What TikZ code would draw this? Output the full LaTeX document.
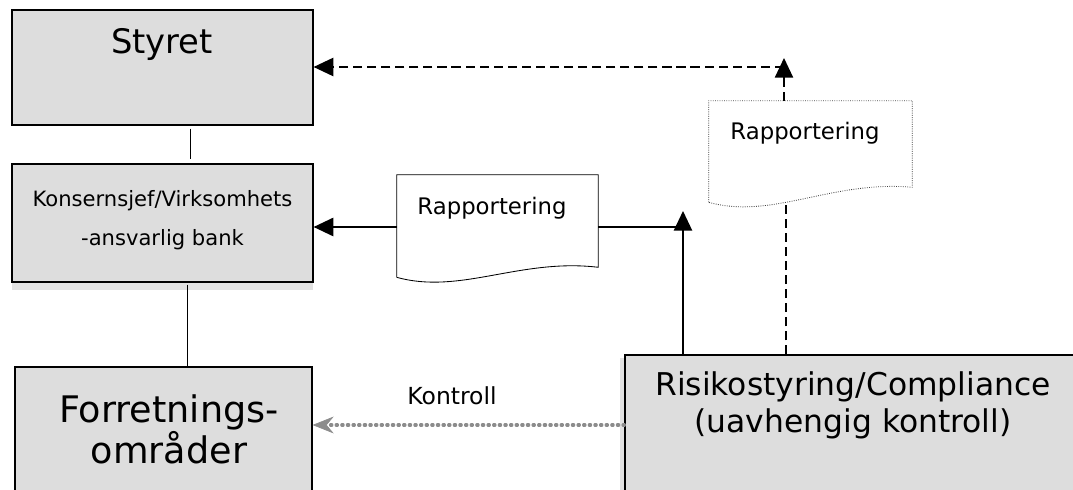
\documentclass[tikz,border=0pt]{standalone}
\usepackage{fontspec}
\setmainfont{DejaVu Sans}
\usepackage{tikz}
\usetikzlibrary{arrows.meta,positioning,calc}
\definecolor{boxgray}{HTML}{DDDDDD}
\definecolor{shadowgray}{HTML}{E2E2E2}
\definecolor{ctrlgray}{HTML}{8C8C8C}
\tikzset{
  unit/.style={draw,fill=boxgray,line width=0.8pt,inner sep=0pt},
  doc/.style={inner sep=0pt},
  link/.style={line width=0.8pt},
  solidarr/.style={line width=1.2pt,-{Triangle[length=14pt,width=13pt]}},
  dashline/.style={line width=1pt,dash pattern=on 6.5pt off 3.5pt},
  dasharr/.style={dashline,-{Triangle[length=14pt,width=13pt]}},
  ctrlarr/.style={ctrlgray,line width=2.2pt,line cap=round,dash pattern=on 1pt off 3pt,
    -{Stealth[length=15pt,width=12pt,inset=5pt,line cap=butt,line width=0.5pt]}},
}
\begin{document}
\begin{tikzpicture}[x=0.025cm,y=-0.025cm]
  \useasboundingbox (0,0) rectangle (1073,490);

  % Boxes
  \node[unit,minimum width=7.525cm,minimum height=2.875cm] (styret) at (162.5,67.5) {};
  \fill[shadowgray] (162.5,223) ++(-150.5,59) rectangle ++(301,8);
  \node[unit,minimum width=7.525cm,minimum height=2.95cm] (konsern) at (162.5,223) {};
  \node[unit,minimum width=7.425cm,minimum height=3.2cm] (forretn) at (163.5,431) {};
  \fill[shadowgray] (620,358) rectangle (626,495);
  \node[unit,minimum width=11.5cm,minimum height=3.5cm] (risiko) at (855,425) {};

  % Texts in the boxes
  \node[anchor=base,font=\fontsize{24}{28}\selectfont] (styrettxt) at (162,54) {Styret};
  \node[align=center,font=\fontsize{15}{27.5}\selectfont] (konserntxt) at (162.5,220)
    {Konsernsjef/Virksomhets\\-ansvarlig bank};
  \node[align=center,font=\fontsize{26}{27}\selectfont] (forretntxt) at (169,429)
    {Forretnings-\\områder};
  \node[align=center,font=\fontsize{22.3}{26.3}\selectfont] (risikotxt) at (853,405)
    {Risikostyring/Compliance\\(uavhengig kontroll)};

  % Reports (documents)
  \node[doc,minimum width=5.025cm,minimum height=2.6cm] (rapp1) at (497.5,227) {};
  \filldraw[fill=white,line width=0.6pt] ($(rapp1.south west)+(0,-2)$) -- (rapp1.north west)
    -- (rapp1.north east) -- ($(rapp1.south east)+(0,-12)$)
    .. controls (520,258) and (460,295) .. ($(rapp1.south west)+(0,-2)$);
  \node[anchor=base,font=\fontsize{16.2}{19}\selectfont] (rapp1txt) at (492,215) {Rapportering};

  \node[doc,minimum width=5.075cm,minimum height=2.65cm] (rapp2) at (810.5,154) {};
  \filldraw[fill=white,draw=gray!50!black,line width=0.6pt,densely dotted] ($(rapp2.south west)+(0,-5)$)
    -- (rapp2.north west) -- (rapp2.north east) -- ($(rapp2.south east)+(0,-20)$)
    .. controls (832,180) and (772,220) .. ($(rapp2.south west)+(0,-5)$);
  \node[anchor=base,font=\fontsize{16.2}{19}\selectfont] (rapp2txt) at (805,140) {Rapportering};

  % Lines between the boxes
  \draw[link] ($(styret.south)+(28,3)$) -- ($(konsern.north)+(28,-4)$);
  \draw[link] ($(konsern.south)+(25,2)$) -- ($(forretn.north)+(24,0)$);

  % Reporting to the CEO
  \coordinate (joint) at (683,227);
  \draw[solidarr] (rapp1.west) -- (rapp1.west -| konsern.east);
  \draw[line width=1.2pt] (rapp1.east) -- (joint);
  \draw[solidarr] (risiko.north -| joint) -- ($(joint)+(0,-16)$);

  % Reporting to the board
  \coordinate (r2low) at (786,200);
  \coordinate (corner) at (784,67);
  \draw[dashline] (risiko.north -| r2low) -- (r2low);
  \draw[dasharr] (rapp2.north -| corner) -- ($(corner)+(0,-9)$);
  \draw[dasharr] (corner) -- (corner -| styret.east);

  % Control
  \draw[ctrlarr] (risiko.west) -- (risiko.west -| forretn.east);
  \node[anchor=base,font=\fontsize{16.7}{19}\selectfont] (kontroll) at (452,405) {Kontroll};
\end{tikzpicture}
\end{document}
